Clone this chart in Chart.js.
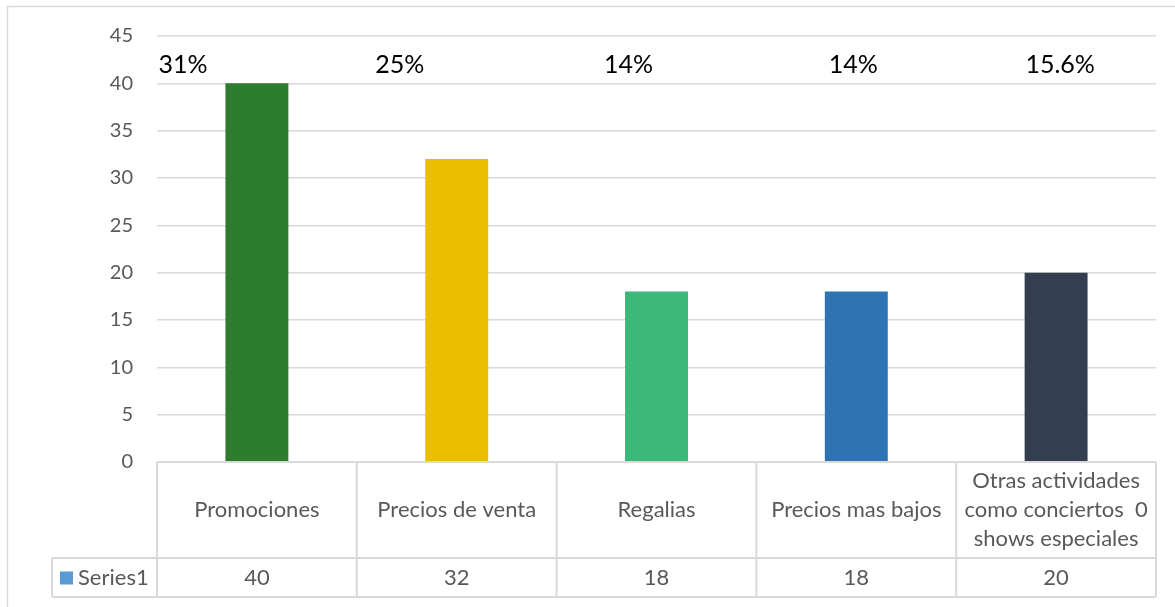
<!DOCTYPE html>
<html>
<head>
<meta charset="utf-8">
<script src="https://cdn.jsdelivr.net/npm/chart.js@4"></script>
<style>
html,body{margin:0;padding:0;background:#fff;}
#wrap{width:1175px;height:607px;position:relative;}
</style>
</head>
<body>
<div id="wrap"><canvas id="c" width="1175" height="607"></canvas></div>
<script>
const categories = ["Promociones", "Precios de venta", "Regalias", "Precios mas bajos", ["Otras actividades", "como conciertos  0", "shows especiales"]];
const seriesName = "Series1";
const values = [40, 32, 18, 18, 20];
const percentLabels = ["31%", "25%", "14%", "14%", "15.6%"];
const barColors = ["#2E7D2E", "#EBBE00", "#3CB878", "#2E74B5", "#333F50"];
const yMin = 0, yMax = 45, yStep = 5;

const FONT = "Lato, 'Open Sans', sans-serif";
const GRID = "#D9D9D9";
const TXT = "#595959";

const tablePlugin = {
  id: 'tablePlugin',
  beforeDraw(chart) {
    const ctx = chart.ctx;
    ctx.save();
    ctx.strokeStyle = GRID;
    ctx.lineWidth = 1.5;
    ctx.beginPath();
    ctx.moveTo(7.5, chart.height + 2);
    ctx.lineTo(7.5, 6.5);
    ctx.lineTo(chart.width + 2, 6.5);
    ctx.stroke();
    ctx.restore();
  },
  afterDraw(chart) {
    const ctx = chart.ctx;
    const xs = chart.scales.x;
    const ca = chart.chartArea;
    const n = values.length;
    const cw = (xs.right - xs.left) / n;
    const top = ca.bottom;
    const headerH = 96, rowH = 39;
    const mid = top + headerH, bot = mid + rowH;
    const legendLeft = 52;
    ctx.save();
    ctx.strokeStyle = GRID;
    ctx.lineWidth = 2;
    ctx.beginPath();
    ctx.moveTo(xs.left, top); ctx.lineTo(xs.right, top);
    ctx.moveTo(legendLeft, mid); ctx.lineTo(xs.right, mid);
    ctx.moveTo(legendLeft, bot); ctx.lineTo(xs.right, bot);
    ctx.moveTo(legendLeft, mid); ctx.lineTo(legendLeft, bot);
    for (let i = 0; i <= n; i++) {
      const x = xs.left + i * cw;
      ctx.moveTo(x, top); ctx.lineTo(x, bot);
    }
    ctx.stroke();

    // category labels
    ctx.fillStyle = TXT;
    ctx.font = "22px " + FONT;
    ctx.textAlign = "center";
    ctx.textBaseline = "middle";
    const lineH = 29;
    categories.forEach((c, i) => {
      const x = xs.getPixelForValue(i);
      const lines = Array.isArray(c) ? c : [c];
      const cy = top + headerH / 2;
      lines.forEach((l, j) => {
        ctx.fillText(l, x, cy + (j - (lines.length - 1) / 2) * lineH);
      });
    });
    // values row
    const vy = mid + rowH / 2;
    values.forEach((v, i) => {
      ctx.fillText(String(v), xs.getPixelForValue(i), vy);
    });
    // legend key
    ctx.fillStyle = "#5B9BD5";
    ctx.fillRect(60, vy - 6, 13, 13);
    ctx.fillStyle = TXT;
    ctx.textAlign = "left";
    ctx.fillText(seriesName, 78, vy);

    // percent labels
    const nudge = [-74, -57, -28, -3, 4];
    ctx.fillStyle = "#000";
    ctx.font = "25px " + FONT;
    ctx.textAlign = "center";
    ctx.textBaseline = "alphabetic";
    percentLabels.forEach((p, i) => {
      ctx.fillText(p, xs.getPixelForValue(i) + nudge[i], 73);
    });
    ctx.restore();
  }
};

new Chart(document.getElementById('c'), {
  type: 'bar',
  data: {
    labels: categories,
    datasets: [{
      label: seriesName,
      data: values,
      backgroundColor: barColors,
      borderWidth: 0,
      categoryPercentage: 1,
      barPercentage: 0.315
    }]
  },
  options: {
    responsive: false,
    animation: false,
    devicePixelRatio: 1,
    layout: { padding: { left: 0, top: 35, right: 19, bottom: 10 } },
    plugins: { legend: { display: false }, tooltip: { enabled: false } },
    scales: {
      x: {
        grid: { display: false },
        border: { display: false },
        ticks: { display: false },
        afterFit(s) { s.height = 135; }
      },
      y: {
        min: yMin, max: yMax,
        ticks: { stepSize: yStep, padding: 24, color: TXT, font: { family: FONT, size: 20 } },
        grid: { color: GRID, lineWidth: 1.5, drawTicks: false },
        border: { display: false },
        afterFit(s) { s.width = 157; }
      }
    }
  },
  plugins: [tablePlugin]
});
</script>
</body>
</html>
